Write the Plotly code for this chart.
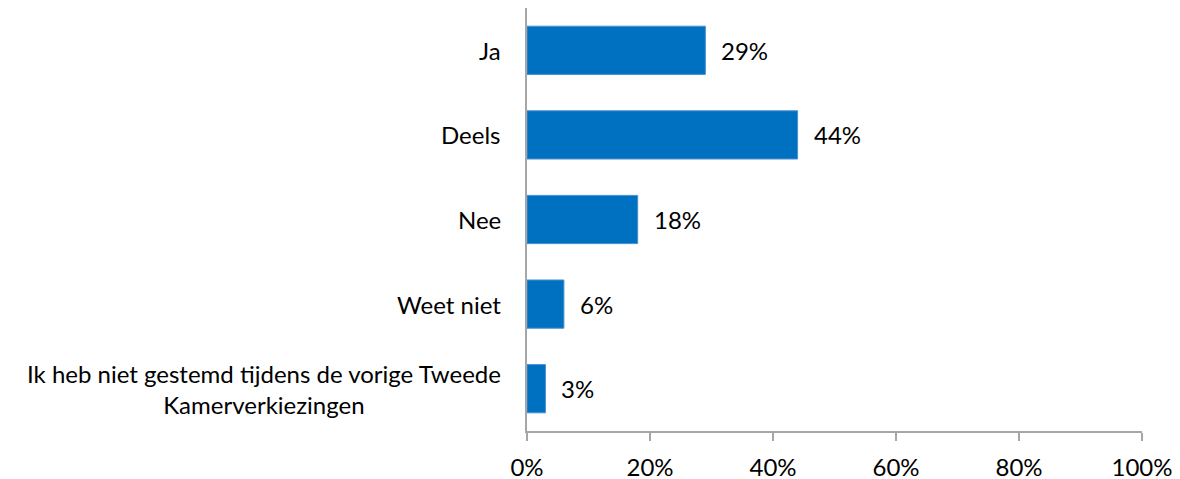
import plotly.graph_objects as go

categories = ["Ja", "Deels", "Nee", "Weet niet",
              "Ik heb niet gestemd tijdens de vorige Tweede<br>Kamerverkiezingen"]
values = [29, 44, 18, 6, 3]
value_labels = ["29%", "44%", "18%", "6%", "3%"]
x_ticks = [0, 20, 40, 60, 80, 100]
x_tick_labels = ["0%", "20%", "40%", "60%", "80%", "100%"]

FONT = "Lato, Calibri, Carlito, sans-serif"
FS = 24

fig = go.Figure()
fig.add_trace(go.Bar(
    y=categories, x=values, orientation="h",
    marker=dict(color="#0070C0", line=dict(color="#4A90D0", width=1)),
    width=0.57, hoverinfo="skip",
))

for c, v, t in zip(categories, values, value_labels):
    fig.add_annotation(x=v, y=c, xref="x", yref="y", text=t, showarrow=False,
                       xanchor="left", xshift=14, font=dict(family=FONT, size=FS, color="#000"))
    fig.add_annotation(x=0, y=c, xref="paper", yref="y", text=c, showarrow=False,
                       xanchor="right", align="center", xshift=-24,
                       font=dict(family=FONT, size=FS, color="#000"))

fig.update_layout(
    width=1180, height=479,
    margin=dict(l=519, r=46, t=0, b=56),
    paper_bgcolor="white", plot_bgcolor="white",
    showlegend=False,
    font=dict(family=FONT, size=FS, color="#000"),
    xaxis=dict(range=[0, 100], tickvals=x_ticks, ticktext=x_tick_labels,
               showgrid=False, zeroline=False, showline=True, linecolor="#A6A6A6",
               linewidth=1.5, ticks="outside", ticklen=8, tickcolor="#A6A6A6",
               tickwidth=1.5, ticklabelstandoff=6,
               tickfont=dict(family=FONT, size=FS, color="#000")),
    yaxis=dict(categoryorder="array", categoryarray=categories[::-1],
               range=[-0.5, 4.5], showticklabels=False, showgrid=False,
               zeroline=False, showline=True, linecolor="#A6A6A6", linewidth=1.5),
)

fig.write_html("out.html")
